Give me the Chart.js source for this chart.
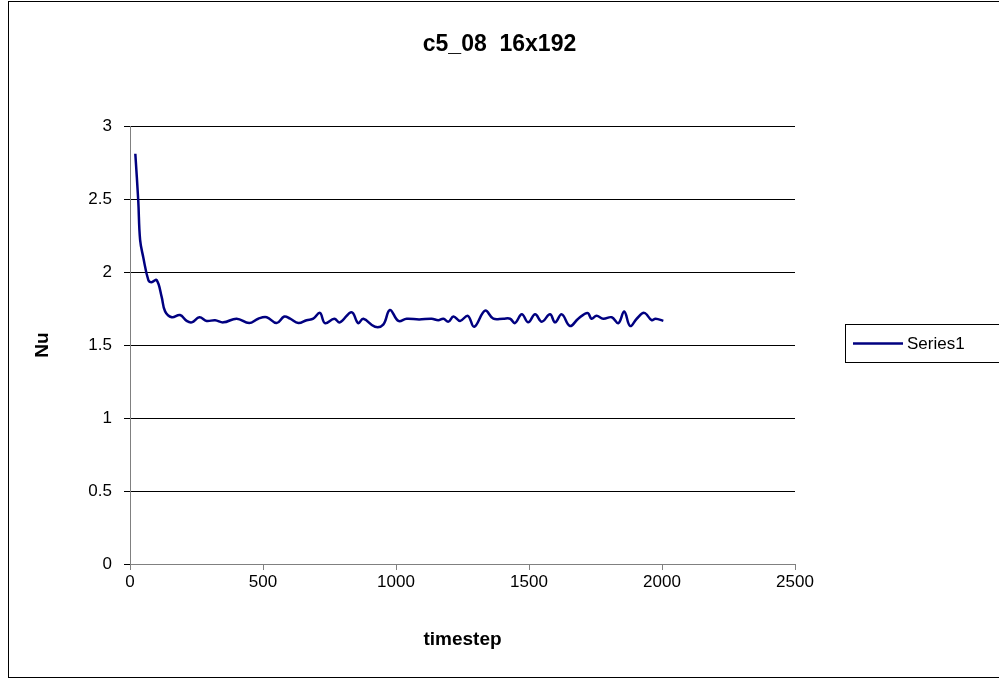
<!DOCTYPE html>
<html>
<head>
<meta charset="utf-8">
<script src="https://cdn.jsdelivr.net/npm/chart.js@4/dist/chart.umd.min.js"></script>
<style>
  html, body { margin: 0; padding: 0; background: #fff; }
  #wrap { width: 999px; height: 679px; }
</style>
</head>
<body>
<div id="wrap"><canvas id="chart" width="999" height="679"></canvas></div>
<script>
// values
const timesteps = [20, 31, 38, 50, 69, 81, 100, 119, 132, 157, 188, 213, 232, 261, 288, 320, 351, 401, 448, 482,
  514, 551, 580, 602, 633, 664, 689, 714, 733, 768, 789, 833, 858, 877, 921, 952, 977, 1009, 1040, 1087,
  1134, 1159, 1178, 1197, 1216, 1241, 1270, 1294, 1335, 1366, 1403, 1429, 1447, 1473, 1497, 1523, 1548, 1579, 1598, 1623,
  1654, 1685, 1720, 1735, 1754, 1779, 1811, 1836, 1858, 1880, 1905, 1933, 1961, 1976, 2005]
const nu = [2.81, 2.49, 2.22, 2.10, 1.945, 1.93, 1.945, 1.83, 1.73, 1.69, 1.705, 1.665, 1.655, 1.69, 1.665, 1.67, 1.655, 1.68, 1.65, 1.68,
  1.69, 1.65, 1.695, 1.68, 1.65, 1.67, 1.68, 1.72, 1.65, 1.68, 1.655, 1.725, 1.65, 1.68, 1.625, 1.64, 1.74, 1.665, 1.68, 1.675,
  1.68, 1.67, 1.68, 1.66, 1.695, 1.665, 1.70, 1.625, 1.735, 1.68, 1.68, 1.68, 1.65, 1.71, 1.655, 1.71, 1.66, 1.71, 1.655, 1.71,
  1.63, 1.68, 1.72, 1.68, 1.70, 1.68, 1.69, 1.65, 1.73, 1.63, 1.68, 1.72, 1.67, 1.68, 1.665]
const seriesName = 'Series1'
const chartTitle = 'c5_08  16x192'
const xTitle = 'timestep'
const yTitle = 'Nu'
const xRange = [0, 2500, 500]
const yRange = [0, 3, 0.5]

const FONT = "'Liberation Sans', Arial, sans-serif"

// frame round the whole picture and the boxed legend on the right
const frame = {
  id: 'frame',
  afterDraw(chart) {
    const ctx = chart.ctx
    ctx.save()
    ctx.strokeStyle = '#000'
    ctx.lineWidth = 1
    ctx.strokeRect(8.5, 1.5, 1000, 676)

    const ds = chart.data.datasets[0]
    ctx.strokeRect(845.5, 324.5, 200, 38)
    ctx.strokeStyle = ds.borderColor
    ctx.lineWidth = ds.borderWidth
    ctx.beginPath()
    ctx.moveTo(853, 343.5)
    ctx.lineTo(903, 343.5)
    ctx.stroke()
    ctx.fillStyle = '#000'
    ctx.font = '17px ' + FONT
    ctx.textBaseline = 'middle'
    ctx.fillText(ds.label, 907, 344)
    ctx.restore()
  }
}

const ctx = document.getElementById('chart')
new Chart(ctx, {
  type: 'line',
  data: {
    datasets: [{
      label: seriesName,
      data: timesteps.map((t, i) => ({ x: t, y: nu[i] })),
      borderColor: '#000080',
      borderWidth: 2.5,
      pointRadius: 0,
      tension: 0.4,
      fill: false
    }]
  },
  options: {
    responsive: false,
    animation: false,
    layout: { padding: 0 },
    plugins: {
      legend: { display: false },
      tooltip: { enabled: false },
      title: {
        display: true,
        text: chartTitle,
        color: '#000',
        font: { family: FONT, size: 23, weight: 'bold' },
        padding: { top: 31, bottom: 67.4 }
      }
    },
    scales: {
      x: {
        type: 'linear',
        min: xRange[0], max: xRange[1],
        afterFit: (s) => { s.height = 115 },
        ticks: {
          stepSize: xRange[2],
          color: '#000',
          font: { family: FONT, size: 17 },
          padding: 2,
          maxRotation: 0,
          callback: (v) => String(v)
        },
        grid: { drawOnChartArea: false, drawTicks: true, tickLength: 6, color: '#808080' },
        border: { color: '#808080', width: 1 },
        title: {
          display: true, text: xTitle, color: '#000',
          font: { family: FONT, size: 19, weight: 'bold' },
          padding: { top: 0, bottom: 28 }
        }
      },
      y: {
        min: yRange[0], max: yRange[1],
        afterFit: (s) => { s.width = 130 },
        ticks: {
          stepSize: yRange[2],
          color: '#000',
          font: { family: FONT, size: 17 },
          padding: 12,
          callback: (v) => String(v)
        },
        grid: { drawOnChartArea: true, drawTicks: true, tickLength: 6, color: '#000', lineWidth: 1 },
        border: { color: '#808080', width: 1 },
        title: {
          display: true, text: yTitle, color: '#000',
          font: { family: FONT, size: 19, weight: 'bold' },
          padding: { top: 31, bottom: 0 }
        }
      },
      // empty right-hand axis that keeps the legend's strip free of the plot
      side: {
        position: 'right',
        afterFit: (s) => { s.width = 204 },
        ticks: { display: false },
        grid: { display: false },
        border: { display: false }
      }
    }
  },
  plugins: [frame]
})
</script>
</body>
</html>
